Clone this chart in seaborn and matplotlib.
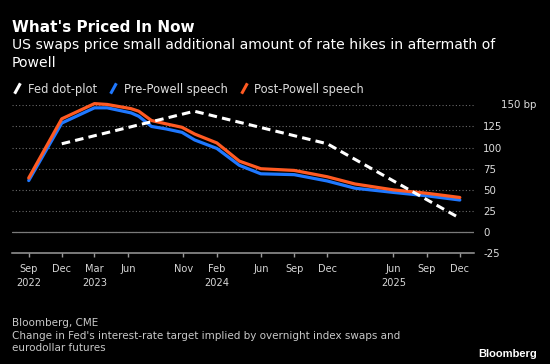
import pandas as pd
import matplotlib
matplotlib.use("Agg")
import matplotlib.pyplot as plt
import matplotlib.dates as mdates
from matplotlib.lines import Line2D
import seaborn as sns

# ---------------- data ----------------
swap_dates = ["2022-09-01", "2022-12-01", "2023-03-01", "2023-04-05", "2023-06-10",
              "2023-07-01", "2023-08-05", "2023-09-15", "2023-10-28", "2023-12-02",
              "2024-02-01", "2024-04-03", "2024-06-01", "2024-09-01", "2024-12-01",
              "2025-02-15", "2025-06-01", "2025-09-01", "2025-12-01"]
pre_powell = [61, 129, 147, 147, 141, 137, 125, 122, 118, 109,
              99, 79, 69, 68, 60.5, 52, 47, 43, 38]
post_powell = [64, 134, 152, 151, 146, 143, 132, 128, 124, 116,
               105.5, 84, 75, 73, 65.5, 57, 50, 46, 41]
dot_dates = ["2022-12-01", "2023-12-01", "2024-12-01", "2025-12-01"]
dot_plot = [104.5, 143, 104.5, 16.5]

series_names = ["Fed dot-plot", "Pre-Powell speech", "Post-Powell speech"]
tick_dates = ["2022-09-01", "2022-12-01", "2023-03-01", "2023-06-01", "2023-11-01",
              "2024-02-01", "2024-06-01", "2024-09-01", "2024-12-01", "2025-06-01",
              "2025-09-01", "2025-12-01"]
tick_labels = ["Sep\n2022", "Dec", "Mar\n2023", "Jun", "Nov", "Feb\n2024", "Jun",
               "Sep", "Dec", "Jun\n2025", "Sep", "Dec"]
y_ticks = [-25, 0, 25, 50, 75, 100, 125, 150]
y_labels = ["-25", "0", "25", "50", "75", "100", "125", ""]

title = "What's Priced In Now"
subtitle_1 = "US swaps price small additional amount of rate hikes in aftermath of"
subtitle_2 = "Powell"
source = "Bloomberg, CME"
note_1 = "Change in Fed's interest-rate target implied by overnight index swaps and"
note_2 = "eurodollar futures"

# ---------------- tables ----------------
swaps = pd.DataFrame({
    "date": pd.to_datetime(swap_dates * 2),
    "bp": pre_powell + post_powell,
    "series": [series_names[1]] * len(pre_powell) + [series_names[2]] * len(post_powell),
})
dots = pd.DataFrame({"date": pd.to_datetime(dot_dates), "bp": dot_plot})

BLUE = "#1f78ff"
ORANGE = "#ff5a22"
WHITE = "#ffffff"

sns.set_style("ticks")
plt.rcParams["font.family"] = ["DejaVu Sans"]
plt.rcParams["axes.facecolor"] = "black"
plt.rcParams["figure.facecolor"] = "black"

W, H = 550, 364
fig = plt.figure(figsize=(W / 100, H / 100), dpi=100, facecolor="black")
ax_l, ax_r, ax_t, ax_b = 12, 474, 105.3, 253.3
ax = fig.add_axes([ax_l / W, 1 - ax_b / H, (ax_r - ax_l) / W, (ax_b - ax_t) / H])
ax.set_facecolor("black")

sns.lineplot(data=swaps, x="date", y="bp", hue="series",
             hue_order=series_names[1:], palette={series_names[1]: BLUE, series_names[2]: ORANGE},
             linewidth=2.3, estimator=None, legend=False, ax=ax, clip_on=False, zorder=3)
sns.lineplot(data=dots, x="date", y="bp", color=WHITE, linewidth=2.2,
             linestyle=(0, (2.8, 1.7)), estimator=None, legend=False, ax=ax,
             clip_on=False, zorder=4)

# axes limits
ax.set_ylim(-25, 150)
ax.set_xlim(mdates.date2num(pd.Timestamp("2022-07-17")),
            mdates.date2num(pd.Timestamp("2026-01-09")))

# y axis
ax.yaxis.tick_right()
ax.set_yticks(y_ticks)
ax.set_yticklabels(y_labels)
ax.tick_params(axis="y", length=0, pad=6.5, labelsize=7.4, labelcolor="#dddddd")
ax.annotate("150 bp", xy=(1, 150), xycoords=("axes fraction", "data"),
            xytext=(27 * 0.72, 0), textcoords="offset points",
            ha="left", va="center", fontsize=7.4, color="#dddddd")

# grid
ax.yaxis.grid(True, linestyle=(0, (1, 2)), color="#6a6a6a", linewidth=0.8)
ax.xaxis.grid(False)
ax.axhline(0, color="#7a7a7a", linewidth=0.9, zorder=2)

# x axis
ax.set_xticks(mdates.date2num(pd.to_datetime(tick_dates)))
ax.set_xticklabels(tick_labels)
ax.tick_params(axis="x", direction="out", length=3, width=1, color="#9a9a9a",
               pad=5, labelsize=7.1, labelcolor="#d6d6d6")
for lbl in ax.get_xticklabels():
    lbl.set_linespacing(1.4)
ax.set_xlabel("")
ax.set_ylabel("")

for s in ["top", "left", "right"]:
    ax.spines[s].set_visible(False)
ax.spines["bottom"].set_color("#9a9a9a")
ax.spines["bottom"].set_linewidth(1.1)

# legend
slash = [(-0.55, -1), (0.55, 1)]
handles = [Line2D([], [], color=c, marker=slash, linestyle="none",
                  markersize=7.5, markeredgewidth=2.2, markeredgecolor=c)
           for c in (WHITE, BLUE, ORANGE)]
leg = fig.legend(handles, series_names, loc="center left",
                 bbox_to_anchor=(12 / W, 1 - 89 / H), ncol=3, frameon=False,
                 fontsize=8.3, handlelength=0.95, handletextpad=0.45,
                 columnspacing=0.9, borderpad=0, borderaxespad=0)
for t in leg.get_texts():
    t.set_color("#dddddd")

# titles and notes
fig.text(12 / W, 1 - 32 / H, title, fontsize=11, fontweight="bold", color="white",
         ha="left", va="baseline")
fig.text(12 / W, 1 - 49.3 / H, subtitle_1, fontsize=10.1, color="white",
         ha="left", va="baseline")
fig.text(12 / W, 1 - 66.7 / H, subtitle_2, fontsize=10.1, color="white",
         ha="left", va="baseline")
fig.text(12 / W, 1 - 325.7 / H, source, fontsize=7.5, color="#c8c8c8",
         ha="left", va="baseline")
fig.text(12 / W, 1 - 339 / H, note_1, fontsize=7.5, color="#c8c8c8",
         ha="left", va="baseline")
fig.text(12 / W, 1 - 351 / H, note_2, fontsize=7.5, color="#c8c8c8",
         ha="left", va="baseline")
fig.text(537 / W, 1 - 357 / H, "Bloomberg", fontsize=8, fontweight="bold",
         family=["Liberation Sans", "DejaVu Sans"],
         color="white", ha="right", va="baseline")

fig.savefig("out.png", dpi=100, facecolor="black")
